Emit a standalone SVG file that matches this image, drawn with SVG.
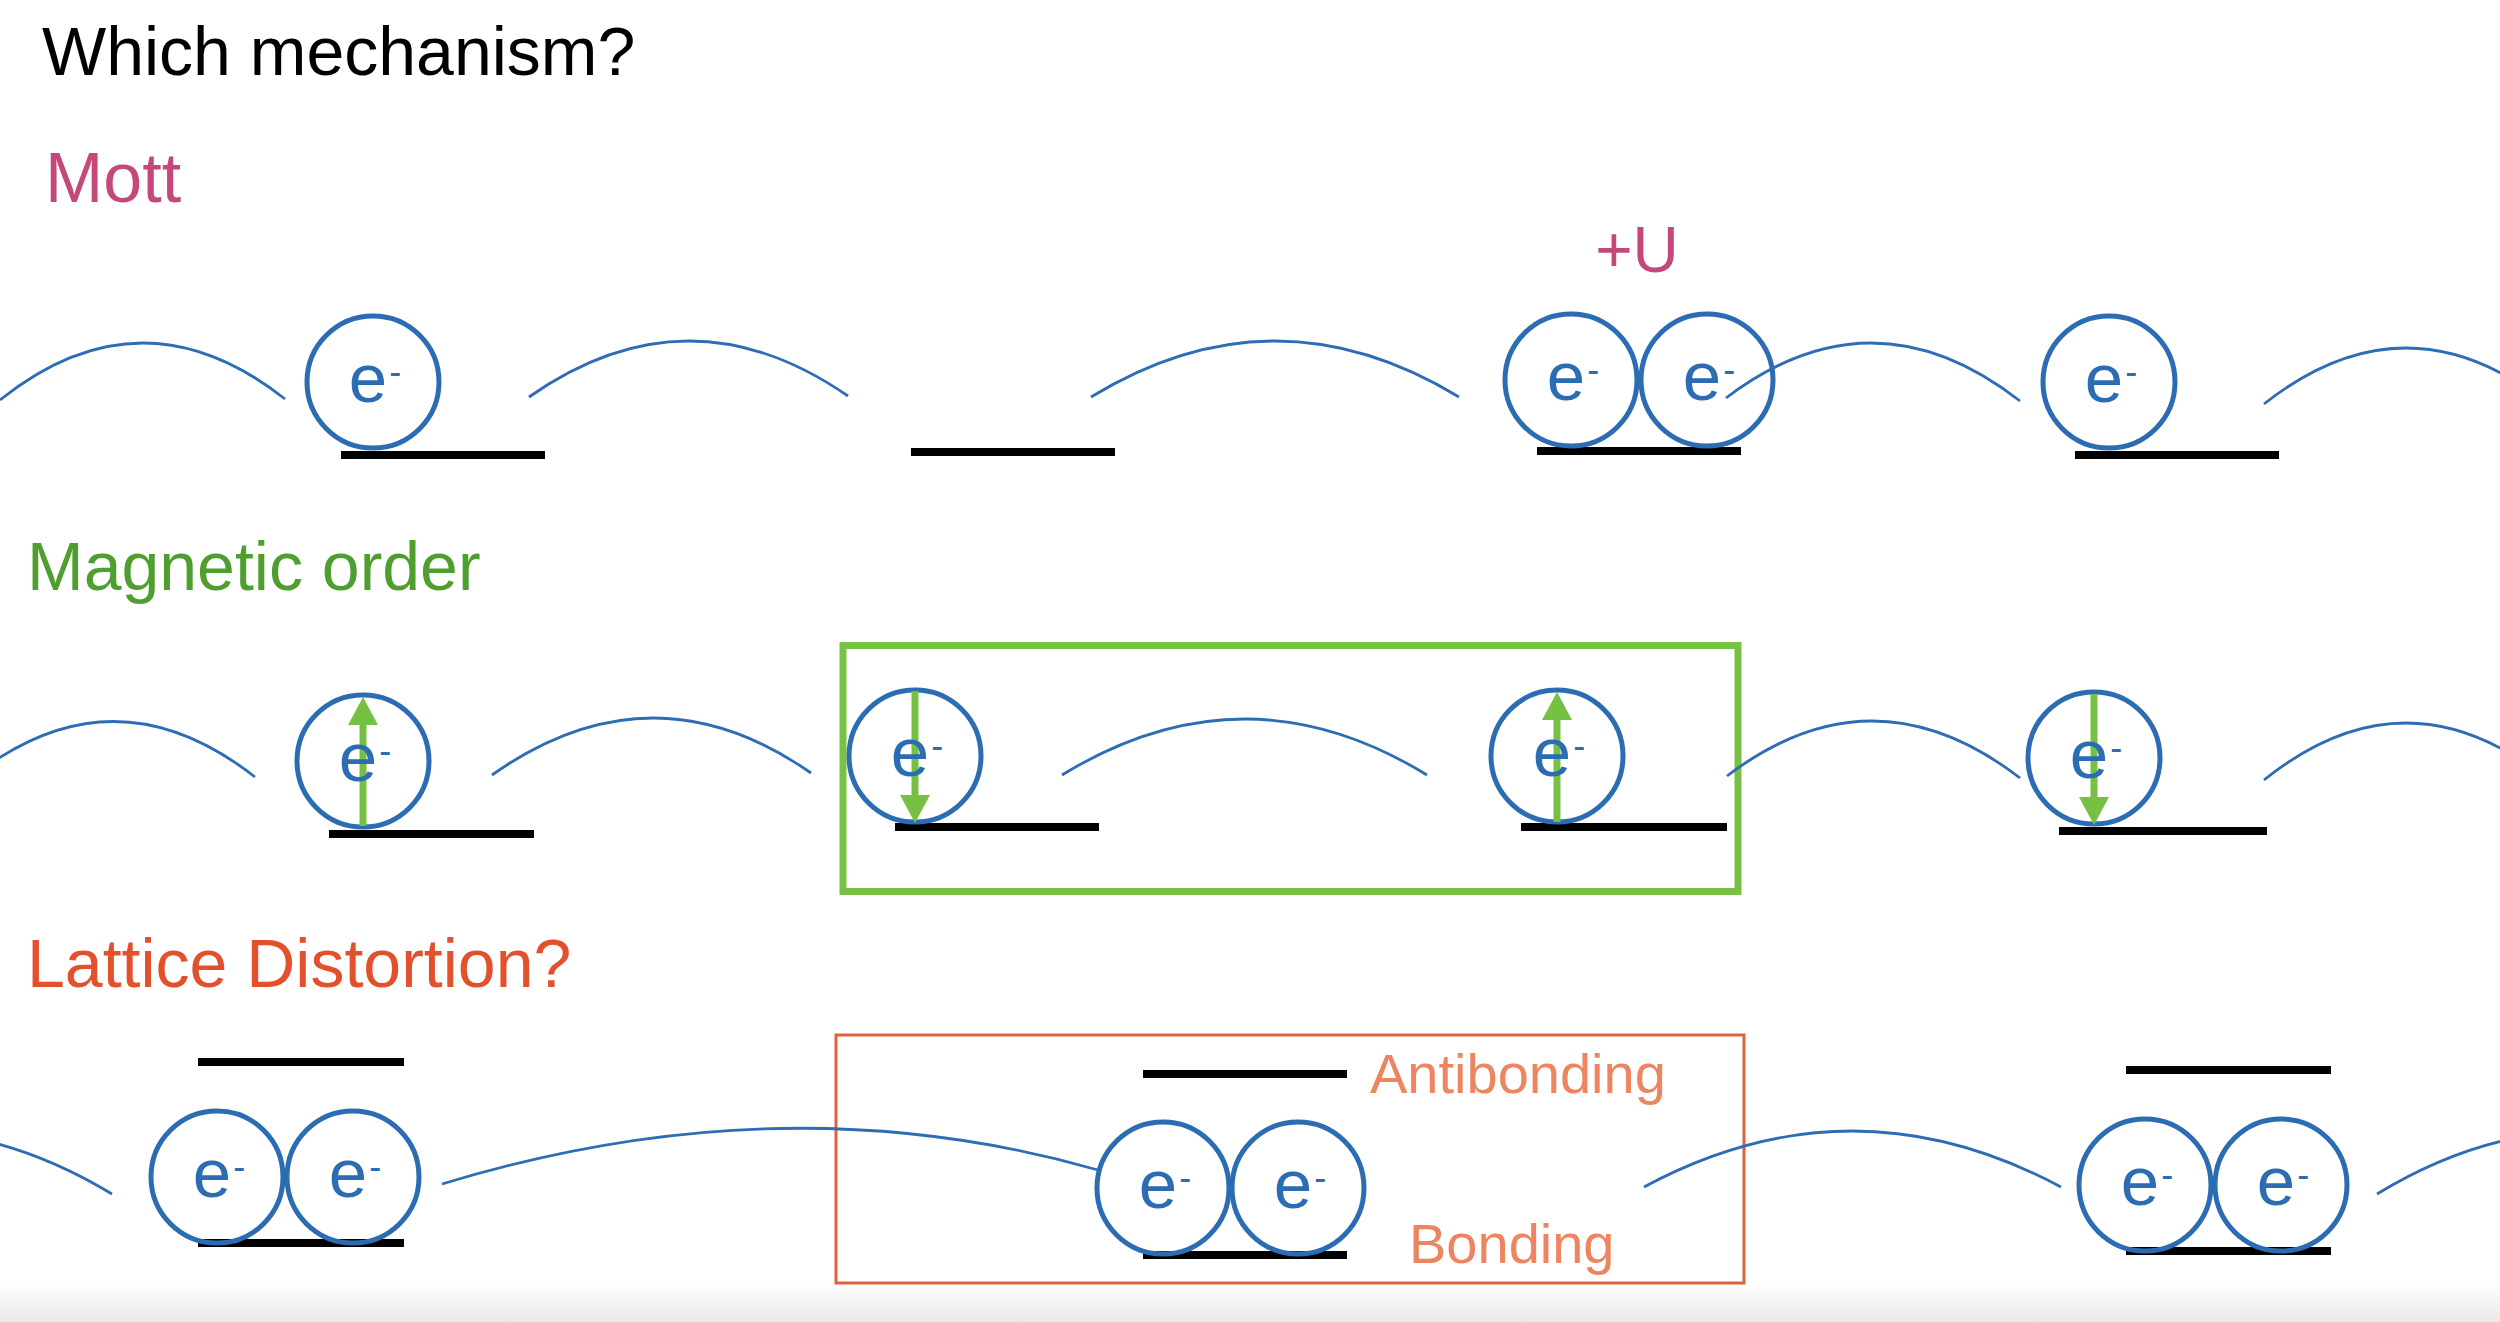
<svg xmlns="http://www.w3.org/2000/svg" width="2500" height="1322" viewBox="0 0 2500 1322">
  <defs>
    <style>
      .hd { font-family: "Liberation Sans", Arial, sans-serif; font-size: 68px; }
      .arc { fill: none; stroke: #2d6db4; stroke-width: 2.8; }
      .el circle { fill: none; stroke: #2b6cb3; stroke-width: 5; }
      .el text { font-family: "Liberation Sans", Arial, sans-serif; font-size: 69px; fill: #2b6cb3; text-anchor: middle; }
      .el tspan { font-size: 36px; }
      .bar { fill: #000; }
      .spin { stroke: #76c043; stroke-width: 7; }
      .head { fill: #76c043; }
      .lbl { font-family: "Liberation Sans", Arial, sans-serif; font-size: 56px; fill: #ec8560; }
    </style>
    <linearGradient id="fade" x1="0" y1="0" x2="0" y2="1">
      <stop offset="0" stop-color="#ffffff"/>
      <stop offset="1" stop-color="#e9e9e9"/>
    </linearGradient>
  </defs>

  <rect x="0" y="0" width="2500" height="1322" fill="#ffffff"/>
  <rect x="0" y="1284" width="2500" height="38" fill="url(#fade)"/>

  <!-- headings -->
  <g id="title"><text class="hd" x="42" y="75" fill="#000000">Which mechanism?</text></g>
  <g id="mott-label"><text class="hd" x="45" y="202" style="font-size:70px" fill="#c4487a">Mott</text></g>
  <g id="u-label"><text class="hd" x="1637" y="272" style="font-size:64px" text-anchor="middle" fill="#c4487a">+U</text></g>
  <g id="magnetic-label"><text class="hd" x="27" y="590" fill="#4f9f30">Magnetic order</text></g>
  <g id="lattice-label"><text class="hd" x="27" y="987" fill="#e2502c">Lattice Distortion?</text></g>

  <!-- boxes -->
  <g id="magnetic-box"><rect x="843" y="645.5" width="895" height="246" fill="none" stroke="#79c145" stroke-width="7"/></g>
  <g id="dimer-box"><rect x="836" y="1035" width="908" height="248" fill="none" stroke="#e0603f" stroke-width="3"/></g>

  <!-- connectors (hopping arcs) -->
  <g id="connectors">
    <path class="arc" d="M0,400 Q142,286.5 285,399"/>
    <path class="arc" d="M529,397 Q688,285.5 848,396"/>
    <path class="arc" d="M1091,397 Q1275,285 1459,397"/>
    <path class="arc" d="M1726,398 Q1873,286.5 2020,401"/>
    <path class="arc" d="M2264,404 Q2406,292 2548,404"/>

    <path class="arc" d="M-30,779 Q112,665 255,777"/>
    <path class="arc" d="M492,775 Q652,662 811,773"/>
    <path class="arc" d="M1062,775 Q1245,663 1427,775"/>
    <path class="arc" d="M1727,776 Q1873,665 2020,778"/>
    <path class="arc" d="M2264,780 Q2406,666 2548,780"/>

    <path class="arc" d="M-305,1194 Q-96,1068 112,1194"/>
    <path class="arc" d="M442,1184 Q784,1080 1098,1170"/>
    <path class="arc" d="M1644,1187 Q1852,1075 2061,1187"/>
    <path class="arc" d="M2377,1194 Q2585,1068 2794,1194"/>
  </g>

  <!-- Mott row -->
  <g id="mott-site1">
    <rect class="bar" x="341" y="451" width="204" height="8"/>
    <g class="el"><circle cx="373" cy="382" r="66"/><text x="375" y="402">e<tspan dx="2" dy="-18">-</tspan></text></g>
  </g>
  <g id="mott-site2">
    <rect class="bar" x="911" y="448" width="204" height="8"/>
  </g>
  <g id="mott-site3">
    <rect class="bar" x="1537" y="447" width="204" height="8"/>
    <g class="el"><circle cx="1571" cy="380" r="66"/><text x="1573" y="400">e<tspan dx="2" dy="-18">-</tspan></text></g>
    <g class="el"><circle cx="1707" cy="380" r="66"/><text x="1709" y="400">e<tspan dx="2" dy="-18">-</tspan></text></g>
  </g>
  <g id="mott-site4">
    <rect class="bar" x="2075" y="451" width="204" height="8"/>
    <g class="el"><circle cx="2109" cy="382" r="66"/><text x="2111" y="402">e<tspan dx="2" dy="-18">-</tspan></text></g>
  </g>

  <!-- Magnetic row -->
  <g id="mag-site1">
    <rect class="bar" x="329" y="830" width="205" height="8"/>
    <g class="el"><circle cx="363" cy="761" r="66"/></g>
    <line class="spin" x1="363" y1="826" x2="363" y2="722"/>
    <polygon class="head" points="348,725 378,725 363,697"/>
    <g class="el"><text x="365" y="781">e<tspan dx="2" dy="-18">-</tspan></text></g>
  </g>
  <g id="mag-site2">
    <rect class="bar" x="895" y="823" width="204" height="8"/>
    <g class="el"><circle cx="915" cy="756" r="66"/></g>
    <line class="spin" x1="915" y1="691" x2="915" y2="798"/>
    <polygon class="head" points="900,795 930,795 915,823"/>
    <g class="el"><text x="917" y="776">e<tspan dx="2" dy="-18">-</tspan></text></g>
  </g>
  <g id="mag-site3">
    <rect class="bar" x="1521" y="823" width="206" height="8"/>
    <g class="el"><circle cx="1557" cy="756" r="66"/></g>
    <line class="spin" x1="1557" y1="822" x2="1557" y2="716"/>
    <polygon class="head" points="1542,720 1572,720 1557,692"/>
    <g class="el"><text x="1559" y="776">e<tspan dx="2" dy="-18">-</tspan></text></g>
  </g>
  <g id="mag-site4">
    <rect class="bar" x="2059" y="827" width="208" height="8"/>
    <g class="el"><circle cx="2094" cy="758" r="66"/></g>
    <line class="spin" x1="2094" y1="694" x2="2094" y2="800"/>
    <polygon class="head" points="2079,797 2109,797 2094,825"/>
    <g class="el"><text x="2096" y="778">e<tspan dx="2" dy="-18">-</tspan></text></g>
  </g>

  <!-- Lattice row -->
  <g id="dimer1">
    <rect class="bar" x="198" y="1058" width="206" height="8"/>
    <rect class="bar" x="198" y="1239" width="206" height="8"/>
    <g class="el"><circle cx="217" cy="1177" r="66"/><text x="219" y="1197">e<tspan dx="2" dy="-18">-</tspan></text></g>
    <g class="el"><circle cx="353" cy="1177" r="66"/><text x="355" y="1197">e<tspan dx="2" dy="-18">-</tspan></text></g>
  </g>
  <g id="dimer2">
    <rect class="bar" x="1143" y="1070" width="204" height="8"/>
    <rect class="bar" x="1143" y="1251" width="204" height="8"/>
    <g class="el"><circle cx="1163" cy="1188" r="66"/><text x="1165" y="1208">e<tspan dx="2" dy="-18">-</tspan></text></g>
    <g class="el"><circle cx="1298" cy="1188" r="66"/><text x="1300" y="1208">e<tspan dx="2" dy="-18">-</tspan></text></g>
    <text class="lbl" x="1370" y="1093">Antibonding</text>
    <text class="lbl" x="1409" y="1263">Bonding</text>
  </g>
  <g id="dimer3">
    <rect class="bar" x="2126" y="1066" width="205" height="8"/>
    <rect class="bar" x="2126" y="1247" width="205" height="8"/>
    <g class="el"><circle cx="2145" cy="1185" r="66"/><text x="2147" y="1205">e<tspan dx="2" dy="-18">-</tspan></text></g>
    <g class="el"><circle cx="2281" cy="1185" r="66"/><text x="2283" y="1205">e<tspan dx="2" dy="-18">-</tspan></text></g>
  </g>
</svg>
